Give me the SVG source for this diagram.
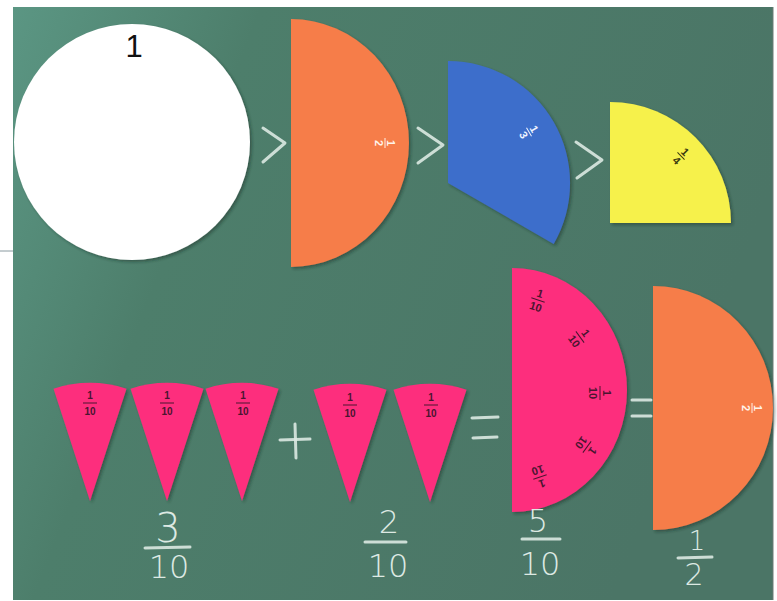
<svg xmlns="http://www.w3.org/2000/svg" xmlns:xlink="http://www.w3.org/1999/xlink" width="777" height="601" viewBox="0 0 777 601">
<defs>
<linearGradient id="board" x1="0" y1="0" x2="1" y2="0.3">
<stop offset="0" stop-color="#5b9683"/>
<stop offset="0.3" stop-color="#4d7e6b"/>
<stop offset="1" stop-color="#4b7566"/>
</linearGradient>
<filter id="sh" x="-10%" y="-10%" width="130%" height="130%">
<feDropShadow dx="2" dy="2" stdDeviation="1.5" flood-color="#1d2e27" flood-opacity="0.45"/>
</filter>
<path id="wedge" d="M0,0 L-36.5,-112.2 A118,118 0 0 1 36.5,-112.2 Z"/>
</defs>
<style>
.chalk{fill:none;stroke:#dbe9e2;stroke-width:3;stroke-linecap:round;stroke-linejoin:round;opacity:0.9}
.chalkt{font-family:"DejaVu Sans",sans-serif;font-weight:300;fill:#dde9e3;text-anchor:middle}
.pink{fill:#fd2f7d;filter:url(#sh)}
.orange{fill:#f67d48;filter:url(#sh)}
.lbl{font-family:"Liberation Sans",Arial,sans-serif;font-size:10px;text-anchor:middle;font-weight:bold}
.big{font-size:11px}
.dk{fill:#4a1530}
.bar{stroke-width:1}
</style>
<rect width="777" height="601" fill="#ffffff"/>
<rect x="13" y="7" width="760" height="593" fill="url(#board)"/>
<line x1="0" y1="251" x2="13" y2="251" stroke="#8a9aa0" stroke-width="1"/>
<line x1="773" y1="7" x2="773" y2="600" stroke="#6d7c76" stroke-width="1"/>

<g id="whole">
<circle cx="132" cy="142" r="118" fill="#ffffff" filter="url(#sh)"/>
<text x="134" y="57" font-family="Liberation Sans,Arial,sans-serif" font-size="31" text-anchor="middle" fill="#111">1</text>
</g>

<g id="half-top">
<path class="orange" d="M291,19 A118,124 0 0 1 291,267 Z"/>
<g transform="translate(385,143) rotate(90)">
<text class="lbl big" x="0" y="-2" fill="#fff4ea">1</text>
<line class="bar" x1="-5" y1="0" x2="5" y2="0" stroke="#fff4ea"/>
<text class="lbl big" x="0" y="10" fill="#fff4ea">2</text>
</g>
</g>

<g id="third">
<path d="M448,183 L448,61 A122,122 0 0 1 553.7,244 Z" fill="#3e6ecb" filter="url(#sh)"/>
<g transform="translate(529,132) rotate(60)">
<text class="lbl big" x="0" y="-2" fill="#f0f4ff">1</text>
<line class="bar" x1="-5" y1="0" x2="5" y2="0" stroke="#f0f4ff"/>
<text class="lbl big" x="0" y="10" fill="#f0f4ff">3</text>
</g>
</g>

<g id="quarter">
<path d="M610,223 L610,102 A121,121 0 0 1 731,223 Z" fill="#f6f14c" filter="url(#sh)"/>
<g transform="translate(681,156) rotate(45)">
<text class="lbl big" x="0" y="-2" fill="#3a3a10">1</text>
<line class="bar" x1="-5" y1="0" x2="5" y2="0" stroke="#3a3a10"/>
<text class="lbl big" x="0" y="10" fill="#3a3a10">4</text>
</g>
</g>

<g id="compare-signs">
<polyline class="chalk" points="263,128 285,143 263,162"/>
<polyline class="chalk" points="418,128 443,145 418,163"/>
<polyline class="chalk" points="576,142 602,160 577,178"/>
</g>

<g id="tenth-1">
<use xlink:href="#wedge" class="pink" transform="translate(90,501)"/>
<text class="lbl dk" x="90" y="399">1</text><line class="bar" x1="83" y1="403" x2="97" y2="403" stroke="#4a1530"/><text class="lbl dk" x="90" y="415">10</text>
</g>
<g id="tenth-2">
<use xlink:href="#wedge" class="pink" transform="translate(167,501)"/>
<text class="lbl dk" x="167" y="399">1</text><line class="bar" x1="160" y1="403" x2="174" y2="403" stroke="#4a1530"/><text class="lbl dk" x="167" y="415">10</text>
</g>
<g id="tenth-3">
<use xlink:href="#wedge" class="pink" transform="translate(242,501)"/>
<text class="lbl dk" x="243" y="399">1</text><line class="bar" x1="236" y1="403" x2="250" y2="403" stroke="#4a1530"/><text class="lbl dk" x="243" y="415">10</text>
</g>
<g id="tenth-4">
<use xlink:href="#wedge" class="pink" transform="translate(350,502)"/>
<text class="lbl dk" x="350" y="401">1</text><line class="bar" x1="343" y1="405" x2="357" y2="405" stroke="#4a1530"/><text class="lbl dk" x="350" y="417">10</text>
</g>
<g id="tenth-5">
<use xlink:href="#wedge" class="pink" transform="translate(430,502)"/>
<text class="lbl dk" x="431" y="401">1</text><line class="bar" x1="424" y1="405" x2="438" y2="405" stroke="#4a1530"/><text class="lbl dk" x="431" y="417">10</text>
</g>

<g id="plus">
<line class="chalk" x1="280" y1="440" x2="310" y2="439"/>
<line class="chalk" x1="295" y1="424" x2="296" y2="458"/>
</g>
<g id="equals-1">
<line class="chalk" x1="472" y1="418" x2="498" y2="417"/>
<line class="chalk" x1="473" y1="438" x2="497" y2="437"/>
</g>

<g id="half-tenths">
<path class="pink" d="M512,268 A115,122 0 0 1 512,512 Z"/>
<g transform="translate(538,300) rotate(18)">
<text class="lbl dk big" x="0" y="-3">1</text><line class="bar" x1="-7" y1="0" x2="7" y2="0" stroke="#4a1530"/><text class="lbl dk big" x="0" y="11">10</text>
</g>
<g transform="translate(580,337) rotate(54)">
<text class="lbl dk big" x="0" y="-3">1</text><line class="bar" x1="-7" y1="0" x2="7" y2="0" stroke="#4a1530"/><text class="lbl dk big" x="0" y="11">10</text>
</g>
<g transform="translate(600,393) rotate(90)">
<text class="lbl dk big" x="0" y="-3">1</text><line class="bar" x1="-7" y1="0" x2="7" y2="0" stroke="#4a1530"/><text class="lbl dk big" x="0" y="11">10</text>
</g>
<g transform="translate(587,447) rotate(126)">
<text class="lbl dk big" x="0" y="-3">1</text><line class="bar" x1="-7" y1="0" x2="7" y2="0" stroke="#4a1530"/><text class="lbl dk big" x="0" y="11">10</text>
</g>
<g transform="translate(540,477) rotate(162)">
<text class="lbl dk big" x="0" y="-3">1</text><line class="bar" x1="-7" y1="0" x2="7" y2="0" stroke="#4a1530"/><text class="lbl dk big" x="0" y="11">10</text>
</g>
</g>

<g id="equals-2">
<line class="chalk" x1="632" y1="400" x2="651" y2="400"/>
<line class="chalk" x1="632" y1="416" x2="651" y2="416"/>
</g>

<g id="half-bottom">
<path class="orange" d="M653,286 A120,122 0 0 1 653,530 Z"/>
<g transform="translate(752,408) rotate(90)">
<text class="lbl big" x="0" y="-2" fill="#fff4ea">1</text>
<line class="bar" x1="-5" y1="0" x2="5" y2="0" stroke="#fff4ea"/>
<text class="lbl big" x="0" y="10" fill="#fff4ea">2</text>
</g>
</g>

<g id="chalk-fractions">
<text class="chalkt" x="168" y="542" font-size="40">3</text>
<line class="chalk" x1="145" y1="548" x2="190" y2="547"/>
<text class="chalkt" x="169" y="578" font-size="32">10</text>

<text class="chalkt" x="389" y="533" font-size="32">2</text>
<line class="chalk" x1="365" y1="542" x2="406" y2="542"/>
<text class="chalkt" x="388" y="577" font-size="32">10</text>

<text class="chalkt" x="538" y="532" font-size="32">5</text>
<line class="chalk" x1="522" y1="539" x2="560" y2="539"/>
<text class="chalkt" x="540" y="575" font-size="32">10</text>

<text class="chalkt" x="697" y="550" font-size="26">1</text>
<line class="chalk" x1="678" y1="558" x2="712" y2="557"/>
<text class="chalkt" x="694" y="585" font-size="30">2</text>
</g>
</svg>
